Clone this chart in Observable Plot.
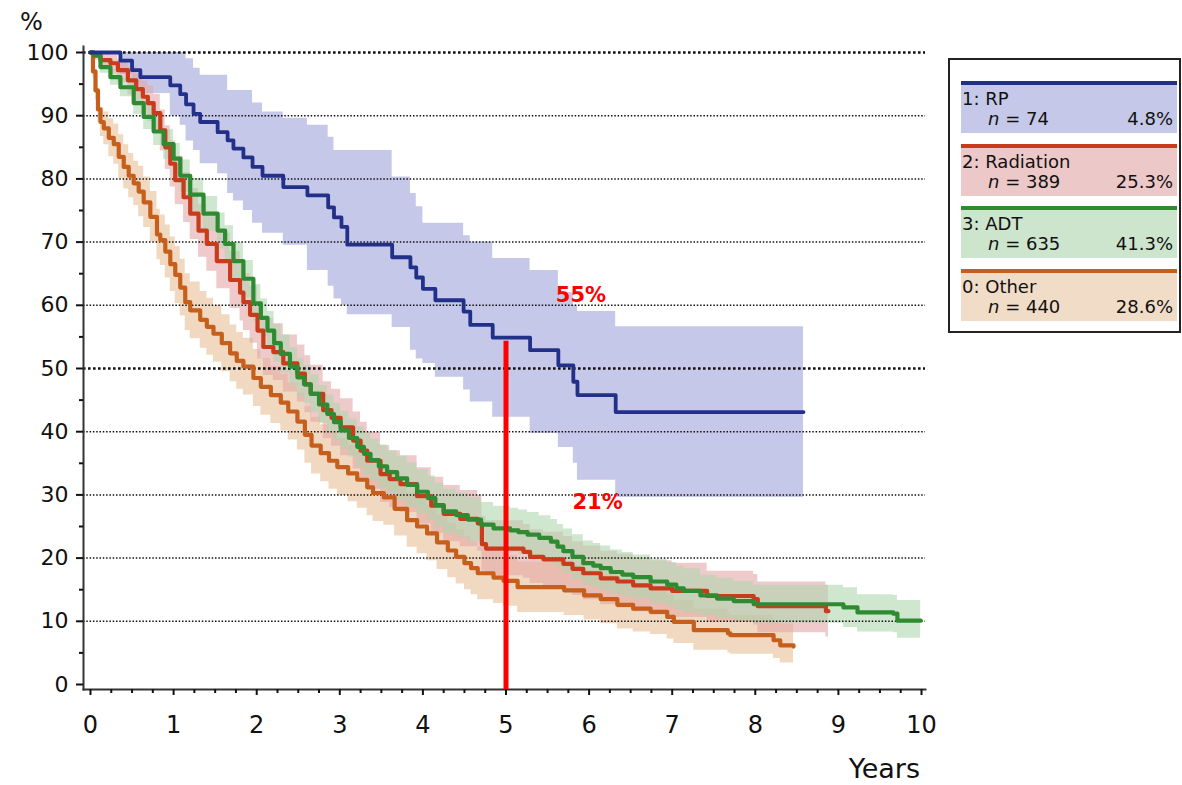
<!DOCTYPE html>
<html><head><meta charset="utf-8">
<script src="https://cdn.jsdelivr.net/npm/d3@7"></script>
<script src="https://cdn.jsdelivr.net/npm/@observablehq/plot@0.6"></script>
<style>
body{margin:0;background:#fff;font-family:"DejaVu Sans",sans-serif;color:#111;}
#wrap{position:relative;width:1182px;height:785px;overflow:hidden;}
#chart{position:absolute;left:0;top:0;}
.lab{position:absolute;white-space:nowrap;color:#111;}
#legend{position:absolute;left:948px;top:58px;width:233px;height:275px;border:2px solid #222;box-sizing:border-box;}
.entry{position:absolute;left:11px;width:216px;height:52px;box-sizing:border-box;border-top:4px solid;padding-top:4px;font-size:18px;line-height:20px;}
.entry .l1{padding-left:1px;}
.entry .l2{display:flex;justify-content:space-between;padding-left:27px;padding-right:4px;}
</style></head><body><div id="wrap"><div id="chart"></div>
<div class="lab" style="left:20px;top:10px;font-size:24px;line-height:24px;">%</div>
<div class="lab" style="left:700px;width:220px;text-align:right;top:755px;font-size:27px;line-height:27px;">Years</div>
<div id="legend"></div>
</div>
<script>
// ---- legend / groups ----
const groupLabels = ["1: RP", "2: Radiation", "3: ADT", "0: Other"];
const groupN = [74, 389, 635, 440];
const groupPct = ["4.8%", "25.3%", "41.3%", "28.6%"];
const lineColors = ["#22308a", "#c83c1c", "#2e8b32", "#c65f1c"];
const legendFills = ["#c5c8e8", "#ecc8c8", "#cde4cd", "#f1dcc8"];

// ---- ticks ----
const xTicks = [0,1,2,3,4,5,6,7,8,9,10];
const xMinor = [0.25,0.5,0.75,1.25,1.5,1.75,2.25,2.5,2.75,3.25,3.5,3.75,4.25,4.5,4.75,5.25,5.5,5.75,6.25,6.5,6.75,7.25,7.5,7.75,8.25,8.5,8.75,9.25,9.5,9.75];
const yTicks = [0,10,20,30,40,50,60,70,80,90,100];
const yMinor = [5,15,25,35,45,55,65,75,85,95];
const boldGrid = [50,100];
const thinGrid = [10,20,30,40,60,70,80,90];

// ---- 1: RP ----
const rpT  = [0,0.36,0.50,0.60,0.96,1.08,1.15,1.24,1.32,1.53,1.65,1.72,1.84,1.95,2.07,2.32,2.61,2.86,2.93,3.02,3.09,3.63,3.85,3.92,4.00,4.15,4.49,4.57,4.84,5.29,5.63,5.81,5.86,6.32,8.58];
const rpS  = [100,98.7,97.2,96.1,94.8,93.4,91.8,90.3,89.0,87.4,86.1,84.8,83.4,81.9,80.5,78.7,77.4,75.5,73.9,72.4,69.6,67.6,66.0,64.4,62.6,60.8,59.0,56.9,54.9,52.9,50.5,47.9,45.8,43.1,43.1];
const rpLo = [100,96.5,94.5,93.5,90,88.5,86,84.5,82.4,80.8,77.7,76.5,75,73,71.4,69.5,65.5,63,61,60,58.5,56.5,52.9,51.5,50.8,48.6,46.6,44.7,42.3,39.7,37.5,35,32.3,29.6,29.6];
const rpHi = [100,100,100,100,100,100,99,97.5,96.4,96.4,94,94,94,92,90.6,89.6,88.5,86.6,84.5,84.5,84.5,80.3,77.7,75.6,73,73,71,70,67.4,65.5,62,60,59,56.6,56.6];

// ---- 2: Radiation ----
const radT  = [0,0.04,0.12,0.24,0.33,0.45,0.55,0.63,0.69,0.76,0.84,0.90,0.96,1.02,1.12,1.20,1.30,1.40,1.52,1.68,1.80,1.84,1.92,2.01,2.08,2.20,2.32,2.49,2.58,2.65,2.80,2.90,3.01,3.16,3.25,3.33,3.49,3.60,3.73,3.93,4.10,4.25,4.45,4.66,4.71,4.76,5.21,5.29,5.45,5.69,5.80,5.93,6.14,6.34,6.53,6.74,7.00,7.42,7.98,8.03,8.85,8.88];
const radS  = [100,99.5,98.8,98.3,97.2,95.6,94.2,93.0,92.0,90.4,87.7,85.0,82.4,79.8,77.1,74.5,71.8,69.7,67.0,64.0,62.0,60.5,58.5,56.0,53.4,52.6,50.8,49.2,47.5,46.0,43.4,42.2,40.7,38.6,37.0,35.4,33.3,32.5,31.7,29.8,28.3,27.0,26.2,25.5,22.2,21.5,21.0,20.2,19.8,19.1,18.3,17.6,16.8,16.3,15.7,15.2,14.8,14.0,13.5,12.4,11.6,11.6];
const radLo = [100,98.8,97.5,96.6,95.2,93.3,91.7,90.3,89.1,87.3,84.4,81.5,78.7,75.9,73.1,70.4,67.6,65.4,62.6,59.5,57.5,56.0,54.0,51.5,48.9,48.1,46.3,44.7,43.0,41.5,38.9,37.7,36.2,34.1,32.5,30.9,28.8,28.0,27.2,25.4,23.9,22.6,21.8,21.1,17.9,17.2,16.8,16.0,15.6,14.9,14.1,13.4,12.6,12.1,11.5,11.0,10.6,9.9,9.4,8.2,7.5,7.5];
const radHi = [100,100,100,99.6,98.9,97.7,96.6,95.5,94.7,93.4,90.9,88.4,86.0,83.6,81.0,78.5,76.0,74.0,71.4,68.5,66.5,65.0,63.0,60.5,57.9,57.1,55.3,53.7,52.0,50.5,47.9,46.7,45.2,43.1,41.5,39.9,37.8,37.0,36.2,34.3,32.8,31.5,30.7,30.0,26.6,25.9,25.3,24.5,24.1,23.4,22.6,21.9,21.1,20.6,20.0,19.6,19.2,17.9,17.4,16.2,15.7,15.7];

// ---- 3: ADT ----
const adtT  = [0,0.04,0.12,0.24,0.36,0.52,0.64,0.76,0.88,1.00,1.08,1.20,1.36,1.53,1.62,1.72,1.84,1.96,2.05,2.13,2.21,2.29,2.40,2.49,2.57,2.65,2.75,2.85,2.93,3.01,3.11,3.21,3.29,3.37,3.47,3.57,3.69,3.81,3.93,4.06,4.15,4.25,4.40,4.54,4.70,4.85,5.05,5.15,5.26,5.40,5.54,5.62,5.69,5.80,5.93,6.05,6.14,6.26,6.40,6.53,6.74,6.94,7.05,7.14,7.34,7.54,7.74,7.98,8.94,9.06,9.23,9.66,9.71,9.99];
const adtS  = [100,99.6,97.7,96.1,94.5,92.0,89.8,87.5,85.5,83.2,80.5,77.5,74.5,71.8,69.7,67.0,64.2,60.3,58.0,56.0,54.0,52.3,50.3,48.6,47.5,46.0,44.3,42.8,41.5,40.2,39.0,37.6,36.5,35.5,34.5,33.6,32.6,31.6,30.5,29.5,28.4,27.4,26.8,26.1,25.3,24.7,24.4,24.1,23.7,23.2,22.6,21.8,21.1,20.2,19.2,18.8,18.4,17.8,17.4,17.0,16.3,15.8,15.2,14.8,14.1,13.6,13.2,12.7,12.7,12.2,11.4,11.2,10.1,10.1];
const adtLo = [100,99.1,96.7,94.8,93.0,90.2,87.8,85.3,83.1,80.7,77.9,74.8,71.7,68.9,66.8,64.0,61.2,57.3,55.0,53.0,51.0,49.3,47.3,45.6,44.5,43.0,41.3,39.8,38.5,37.2,36.0,34.4,33.2,32.2,31.1,30.2,29.1,28.1,27.0,26.0,24.9,23.9,23.3,22.6,21.8,21.2,20.9,20.6,20.2,19.7,19.1,18.3,17.6,16.7,15.7,15.3,14.9,14.3,13.9,13.5,12.8,12.3,11.7,11.3,10.9,10.5,10.1,9.7,9.7,9.0,8.3,8.2,7.3,7.3];
const adtHi = [100,100,98.7,97.3,95.9,93.7,91.7,89.6,87.8,85.6,83.0,80.1,77.2,74.6,72.6,69.9,67.1,63.3,61.0,59.0,57.0,55.3,53.3,51.6,50.5,49.0,47.3,45.8,44.5,43.2,42.0,40.8,39.8,38.8,37.9,37.0,36.1,35.1,34.0,33.0,31.9,30.9,30.3,29.6,28.8,28.2,27.9,27.6,27.2,26.7,26.1,25.3,24.6,23.7,22.7,22.3,21.9,21.3,20.9,20.5,19.8,19.3,18.7,18.3,17.3,16.8,16.3,15.7,15.7,15.3,14.2,14.1,13.3,13.3];

// ---- 0: Other ----
const othT  = [0,0.03,0.06,0.09,0.12,0.16,0.22,0.28,0.34,0.40,0.46,0.52,0.58,0.64,0.72,0.80,0.84,0.90,0.96,1.02,1.08,1.14,1.20,1.32,1.40,1.48,1.58,1.68,1.76,1.84,1.96,2.05,2.17,2.29,2.38,2.49,2.58,2.66,2.77,2.87,2.97,3.10,3.21,3.33,3.40,3.53,3.66,3.81,3.93,4.05,4.17,4.30,4.40,4.50,4.58,4.66,4.85,4.97,5.14,5.54,5.70,5.94,6.14,6.34,6.53,6.74,6.94,7.02,7.26,7.67,7.70,8.14,8.22,8.30,8.46];
const othS  = [100,97,94,91,89,88,86.5,85.5,83.5,81.9,80.5,79.3,78,76.3,74,71.2,70.3,68.5,66.5,64.8,62.8,60.5,59.2,57.7,56.6,55.5,54,52.4,51.2,50.3,48.5,47.1,45.8,44.6,43.2,41.6,39.5,37.8,36.6,35.4,34.4,33.4,32.4,31.2,30.3,29.6,27.8,26,25,23.9,22.5,21.2,20.2,19.2,18.4,17.6,16.9,16.4,15.4,15.4,14.9,14.1,13.5,12.6,12,11.5,10.7,9.9,8.6,8.1,7.8,7.8,7,6.2,6];
const othLo = [100,96,92.5,89,86.7,85.4,83.5,82.3,80,78.4,77,75.8,74,72.3,70,67.2,66.3,64.3,62.2,60.3,58.3,56,54.7,53.2,52.1,51,49.5,47.9,46.7,45.8,44,42.6,41.3,40.1,38.7,37.1,35,33.3,32.1,30.9,29.9,28.9,27.9,26.7,25.8,25.2,23.5,21.7,20.7,19.6,18.2,16.9,15.9,15,14.2,13.4,12.8,12.4,11.4,11.4,10.9,10.2,9.6,8.8,8.3,7.9,7.2,6.5,5.4,5,4.8,4.8,4.1,3.4,3.2];
const othHi = [100,98,95.5,93,91.3,90.6,89.5,88.7,87,85.4,84,82.8,82,80.3,78,75.2,74.3,72.7,70.8,69.3,67.3,65,63.7,62.2,61.1,60,58.5,56.9,55.7,54.8,53,51.6,50.3,49.1,47.7,46.1,44,42.3,41.1,39.9,38.9,37.9,36.9,35.7,34.8,34,32.1,30.3,29.3,28.2,26.8,25.5,24.5,23.4,22.6,21.8,21,20.4,19.4,19.4,18.9,18,17.4,16.4,15.7,15.1,14.2,13.3,11.9,11.3,10.9,10.9,10,9.6,9.4];

// ---- annotations ----
const cutoffYear = [5];
const cutoffTop = [54.3];
const cutoffBottom = [-0.8];
const annLabels = ["55%", "21%"];
const annYears = [5.6, 5.8];
const annValues = [61.6, 28.8];

function rows(T, S, Lo, Hi) {
  return T.map((t, i) => ({t, s: S[i], lo: Lo[i], hi: Hi[i]}));
}
const rp = rows(rpT, rpS, rpLo, rpHi);
const rad = rows(radT, radS, radLo, radHi);
const adt = rows(adtT, adtS, adtLo, adtHi);
const oth = rows(othT, othS, othLo, othHi);
const cutoff = cutoffYear.map((x, i) => ({x, y1: cutoffBottom[i], y2: cutoffTop[i]}));
const anns = annLabels.map((label, i) => ({label, x: annYears[i], y: annValues[i]}));

const band = (data, fill, op) => Plot.areaY(data, {x: "t", y1: "lo", y2: "hi", curve: "step-after", fill, fillOpacity: op});
const line = (data, stroke, w) => Plot.line(data, {x: "t", y: "s", curve: "step-after", stroke, strokeWidth: w});

const plot = Plot.plot({
  width: 940,
  height: 785,
  marginLeft: 83,
  marginRight: 15,
  marginTop: 46,
  marginBottom: 96,
  style: {fontFamily: "DejaVu Sans", fontSize: "22px", color: "#111", background: "transparent"},
  x: {domain: [0, 10], insetLeft: 7, insetRight: 4},
  y: {domain: [0, 100], insetBottom: 5, insetTop: 6},
  marks: [
    band(rp, "#c5c8e8", 1),
    band(oth, "#e8bf98", 0.6),
    band(rad, "#e4a7a7", 0.6),
    band(adt, "#afd5af", 0.6),
    Plot.ruleY(thinGrid, {stroke: "#111", strokeWidth: 1.5, strokeDasharray: "1.5,1.8"}),
    Plot.ruleY(boldGrid, {stroke: "#111", strokeWidth: 2.6, strokeDasharray: "2.6,2.4"}),
    line(oth, lineColors[3], 4.2),
    line(rad, lineColors[1], 4.2),
    line(adt, lineColors[2], 4.2),
    line(rp, lineColors[0], 3.8),
    Plot.frame({anchor: "left", stroke: "#333", strokeWidth: 2}),
    Plot.frame({anchor: "bottom", stroke: "#333", strokeWidth: 2}),
    Plot.axisY({ticks: yTicks, tickSize: 7, tickPadding: 8, label: null, fontSize: 22, strokeWidth: 2}),
    Plot.axisY({ticks: yMinor, tickSize: 4, tickFormat: () => "", label: null, strokeWidth: 2}),
    Plot.axisX({ticks: xTicks, tickSize: 6, tickPadding: 20, label: null, fontSize: 24, strokeWidth: 2}),
    Plot.axisX({ticks: xMinor, tickSize: 4, tickFormat: () => "", label: null, strokeWidth: 2}),
    Plot.ruleX(cutoff, {x: "x", y1: "y1", y2: "y2", stroke: "#ff0000", strokeWidth: 5}),
    Plot.text(anns, {x: "x", y: "y", text: "label", textAnchor: "start", fill: "#ff0000", fontWeight: "bold", fontSize: 21})
  ]
});
document.getElementById("chart").appendChild(plot);

// legend
const legend = document.getElementById("legend");
groupLabels.forEach((g, i) => {
  const e = document.createElement("div");
  e.className = "entry";
  e.style.top = (21 + 62.5 * i) + "px";
  e.style.borderTopColor = lineColors[i];
  e.style.background = legendFills[i];
  e.innerHTML = `<div class="l1">${g}</div><div class="l2"><span><i>n</i> = ${groupN[i]}</span><span>${groupPct[i]}</span></div>`;
  legend.appendChild(e);
});
</script></body></html>
